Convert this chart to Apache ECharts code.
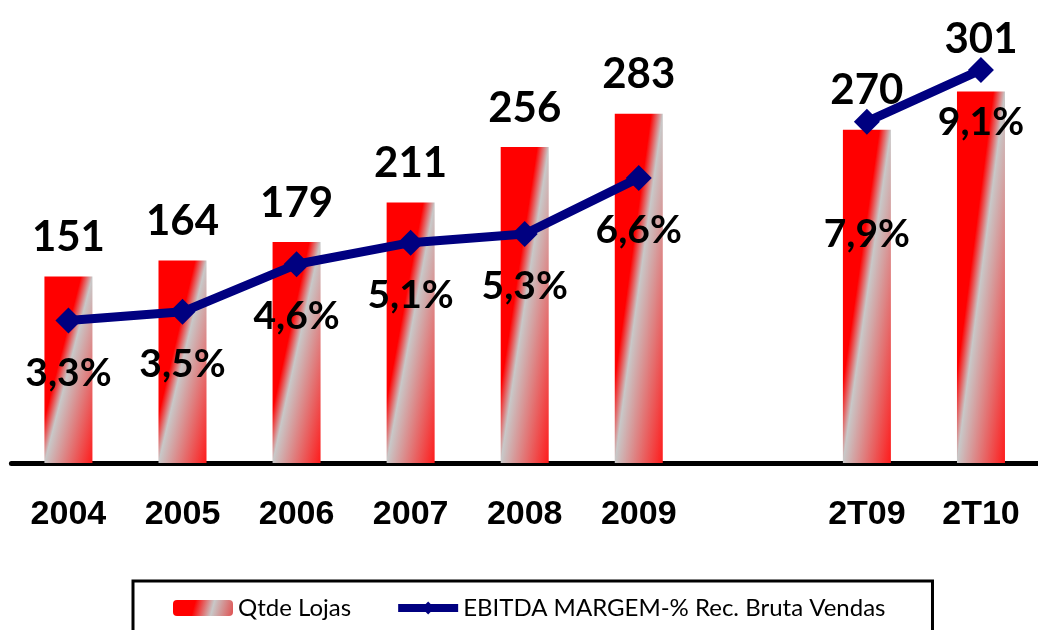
<!DOCTYPE html>
<html>
<head>
<meta charset="utf-8">
<script src="https://cdn.jsdelivr.net/npm/echarts@6/dist/echarts.min.js"></script>
<style>
  html, body { margin: 0; padding: 0; background: #ffffff; }
  #chart { width: 1038px; height: 630px; }
</style>
</head>
<body>
<div id="chart"></div>
<script>
// ---- data ----
var categories = ['2004', '2005', '2006', '2007', '2008', '2009', '', '2T09', '2T10'];
var lojas = [151, 164, 179, 211, 256, 283, null, 270, 301];
var ebitdaMargem = [3.3, 3.5, 4.6, 5.1, 5.3, 6.6, null, 7.9, 9.1];
var seriesNames = ['Qtde Lojas', 'EBITDA MARGEM-% Rec. Bruta Vendas'];

// ---- styling helpers ----
var RED = '#ff0000', GRAY = '#c8c8c8', NAVY = '#000080';
var BAR_W = 48, PX_PER_UNIT = 432 / 350;

function barGradient(v) {
  var h = v * PX_PER_UNIT, w = BAR_W, L2 = h * h + w * w;
  return new echarts.graphic.LinearGradient(0, 0, 2 * h * h / L2, 2 * w * w / L2, [
    { offset: 0, color: RED },
    { offset: 0.38, color: RED },
    { offset: 0.5, color: GRAY },
    { offset: 1, color: '#ff1a1a' }
  ]);
}

var barData = lojas.map(function (v, i) {
  if (v === null) return '-';
  var item = { value: v, itemStyle: { color: barGradient(v) } };
  if (categories[i] === '2T10') item.label = { distance: 31 };
  return item;
});

var lineData = ebitdaMargem.map(function (v, i) {
  if (v === null) return '-';
  var item = { value: v };
  if (categories[i] === '2T09') item.label = { distance: 80 };
  return item;
});

var chart = echarts.init(document.getElementById('chart'), null, { renderer: 'canvas' });
chart.setOption({
  backgroundColor: '#ffffff',
  animation: false,
  grid: { left: 11.4, right: -11, top: 31, bottom: 167 },
  legend: {
    left: 133,
    top: 581,
    borderColor: '#000000',
    borderWidth: 3,
    padding: [15, 47, 40, 40],
    itemWidth: 60,
    itemHeight: 16,
    itemGap: 43,
    textStyle: { fontFamily: 'Lato', fontSize: 24, color: '#000000' },
    data: [
      { name: seriesNames[0], itemStyle: { color: new echarts.graphic.LinearGradient(0, 0, 1, 1, [
        { offset: 0, color: RED }, { offset: 0.35, color: RED }, { offset: 0.65, color: GRAY }, { offset: 1, color: '#e05050' }]) } },
      { name: seriesNames[1], lineStyle: { color: NAVY, width: 8 }, itemStyle: { color: NAVY } }
    ]
  },
  xAxis: {
    type: 'category',
    data: categories,
    axisLine: { show: true, lineStyle: { color: '#000000', width: 5 } },
    axisTick: { show: false },
    axisLabel: {
      interval: 0,
      margin: 35,
      fontFamily: "'Liberation Sans', Arial, sans-serif",
      fontWeight: 'bold',
      fontSize: 34,
      color: '#000000'
    }
  },
  yAxis: [
    { type: 'value', min: 0, max: 350, show: false, splitLine: { show: false } },
    { type: 'value', min: 0, max: 10, show: false, splitLine: { show: false } }
  ],
  series: [
    {
      name: seriesNames[0],
      type: 'bar',
      barWidth: BAR_W,
      data: barData,
      itemStyle: { color: RED },
      label: {
        show: true,
        position: 'top',
        distance: 18,
        fontFamily: 'Lato',
        fontWeight: 'bold',
        fontSize: 42,
        color: '#000000'
      },
      z: 1
    },
    {
      name: seriesNames[1],
      type: 'line',
      yAxisIndex: 1,
      data: lineData,
      connectNulls: false,
      symbol: 'diamond',
      symbolSize: 26,
      lineStyle: { color: NAVY, width: 9 },
      itemStyle: { color: NAVY },
      label: {
        show: true,
        position: 'bottom',
        distance: 20,
        fontFamily: 'Lato',
        fontWeight: 'bold',
        fontSize: 39,
        color: '#000000',
        formatter: function (p) { return String(p.value).replace('.', ',') + '%'; }
      },
      z: 3
    }
  ]
});
</script>
</body>
</html>
